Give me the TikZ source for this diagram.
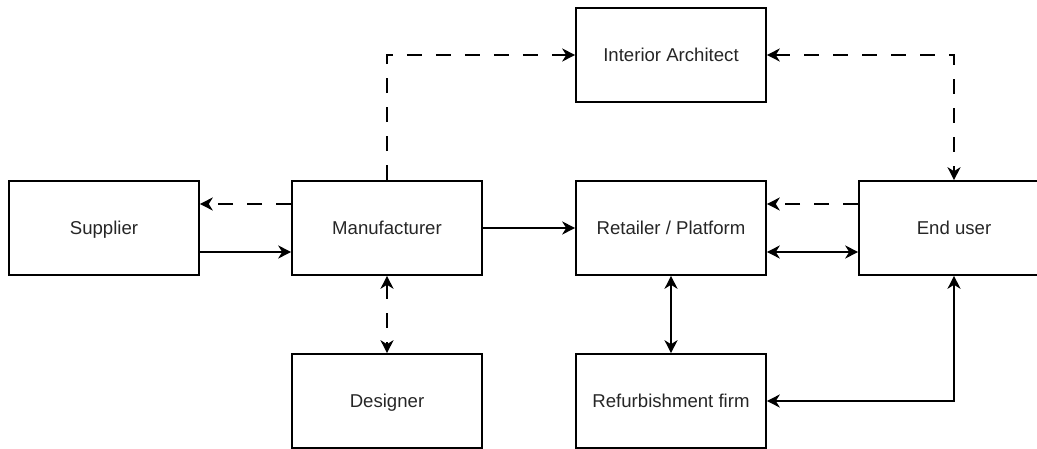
\documentclass[tikz,border=0pt]{standalone}
\usepackage{fontspec}
\setmainfont{Liberation Sans}
\usetikzlibrary{arrows.meta,calc}
\begin{document}
\begin{tikzpicture}[x=1pt,y=-1pt,
  box/.style={draw, line width=1.6pt, minimum width=190pt, minimum height=94pt, inner sep=0pt, text height=13.3pt, text depth=0pt, font=\fontsize{18.6}{20}\selectfont, text=black!85},
  tip/.tip={Stealth[length=13pt,width=13pt,inset=4pt]},
  conn/.style={line width=1.6pt, -tip},
  both/.style={line width=1.6pt, tip-tip},
  dsh/.style={dash pattern=on 15pt off 14pt}]
\useasboundingbox (0,0) rectangle (1037,449);
\clip (0,0) rectangle (1037,449);
\node[box] (sup) at (104,228) {Supplier};
\node[box] (mfr) at (387,228) {Manufacturer};
\node[box] (ret) at (671,228) {Retailer / Platform};
\node[box] (end) at (954,228) {End user};
\node[box] (ia) at (671,55) {Interior Architect};
\node[box] (des) at (387,401) {Designer};
\node[box] (ref) at (671,401) {Refurbishment firm};
\draw[conn,dsh] ([yshift=24pt]mfr.west) -- ([yshift=24pt]sup.east);
\draw[conn] ([yshift=-24pt]sup.east) -- ([yshift=-24pt]mfr.west);
\draw[conn] (mfr.east) -- (ret.west);
\draw[conn,dsh] (mfr.north) |- (ia.west);
\draw[both,dsh] (ia.east) -| (end.north);
\draw[conn,dsh] ([yshift=24pt]end.west) -- ([yshift=24pt]ret.east);
\draw[both] ([yshift=-24pt]ret.east) -- ([yshift=-24pt]end.west);
\draw[both] (ret.south) -- (ref.north);
\draw[both] (end.south) |- (ref.east);
\draw[both,dsh] (mfr.south) -- (des.north);
\end{tikzpicture}
\end{document}
